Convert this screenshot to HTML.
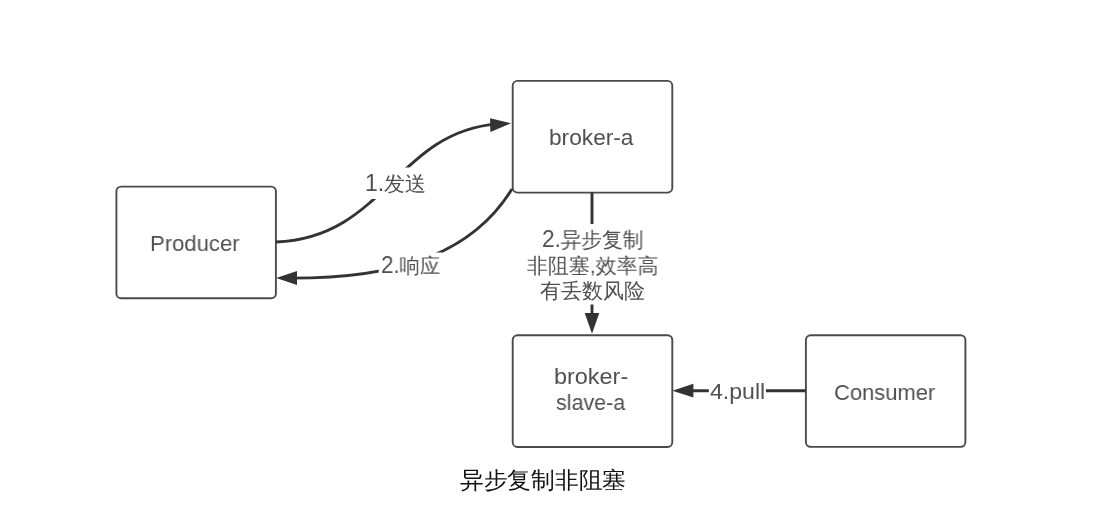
<!DOCTYPE html>
<html><head><meta charset="utf-8">
<style>
html,body{margin:0;padding:0;background:#fff;width:1110px;height:518px;overflow:hidden;}
svg{position:absolute;left:0;top:0;}
.t{position:absolute;font-family:"Liberation Sans",sans-serif;color:#505050;white-space:nowrap;line-height:1;transform-origin:0 0;will-change:transform;}
.n{font-size:23px;}
.cap{position:absolute;font-family:"Liberation Serif",serif;color:#111;white-space:nowrap;line-height:1;transform-origin:0 0;will-change:transform;}
</style></head><body>
<svg width="1110" height="518" viewBox="0 0 1110 518">
  <g fill="none" stroke="#4a4a4a" stroke-width="1.9">
    <rect x="116.4" y="186.6" width="159.5" height="111.7" rx="4.8"/>
    <rect x="512.7" y="80.9" width="159.6" height="111.7" rx="4.8"/>
    <rect x="512.7" y="335.2" width="159.6" height="111.8" rx="4.8"/>
    <rect x="805.9" y="335.2" width="159.5" height="111.7" rx="4.8"/>
  </g>
  <g fill="none" stroke="#333" stroke-width="2.9">
    <path d="M276,242 C385.29,237.50 395.04,132.98 497.00,123.92"/>
    <path d="M512,189 C469.86,257.48 391.67,278.44 290.00,278.16"/>
    <path d="M592,192.5 L592,318"/>
    <path d="M688,390.8 L806,390.8"/>
  </g>
  <g fill="#333">
    <path d="M511.1,123.2 L490,118.2 L490.4,131.9 Z"/>
    <path d="M276.2,278 L297,270.9 L297,284.9 Z"/>
    <path d="M592,333.8 L584.7,313 L599.3,313 Z"/>
    <path d="M672.4,390.8 L693.4,383.8 L693.4,397.6 Z"/>
  </g>
  <g fill="#fff">
    <rect x="365" y="167.5" width="61" height="31.5"/>
    <rect x="378.7" y="252.5" width="63.3" height="27"/>
    <rect x="525" y="224" width="134" height="80.5"/>
    <rect x="708.8" y="378" width="57.1" height="28"/>
  </g>
</svg>
<div class="t" id="producer" style="left:150.40px;top:231.84px;font-size:22.70px;transform:scaleX(0.9724)">Producer</div>
<div class="t" id="brokera" style="left:548.80px;top:125.60px;font-size:22.70px;transform:scaleX(0.9983)">broker-a</div>
<div class="t" id="slave1" style="left:554.40px;top:365.32px;font-size:22.70px;transform:scaleX(1.0323)">broker-</div>
<div class="t" id="slave2" style="left:555.96px;top:391.12px;font-size:22.70px;transform:scaleX(0.9471)">slave-a</div>
<div class="t" id="consumer" style="left:834.04px;top:380.56px;font-size:22.70px;transform:scaleX(0.9677)">Consumer</div>
<div class="t" id="l1" style="left:365.40px;top:172.40px;font-size:21.00px;transform:scaleX(1.0003)"><span class="n">1.</span>发送</div>
<div class="t" id="l2" style="left:380.96px;top:254.20px;font-size:21.00px;transform:scaleX(0.9715)"><span class="n">2.</span>响应</div>
<div class="t" id="l3a" style="left:541.72px;top:228.16px;font-size:21.00px;transform:scaleX(0.9841)"><span class="n">2.</span>异步复制</div>
<div class="t" id="l3b" style="left:526.56px;top:255.00px;font-size:21.00px;transform:scaleX(0.9962)">非阻塞,效率高</div>
<div class="t" id="l3c" style="left:540.12px;top:279.56px;font-size:21.00px;transform:scaleX(0.9972)">有丢数风险</div>
<div class="t" id="l4" style="left:709.56px;top:381.80px;font-size:21.50px;transform:scaleX(1.0738)">4.pull</div>
<div class="cap" id="cap" style="left:460.08px;top:469.12px;font-size:23.00px;transform:scaleX(1.0313)">异步复制非阻塞</div>
</body></html>
